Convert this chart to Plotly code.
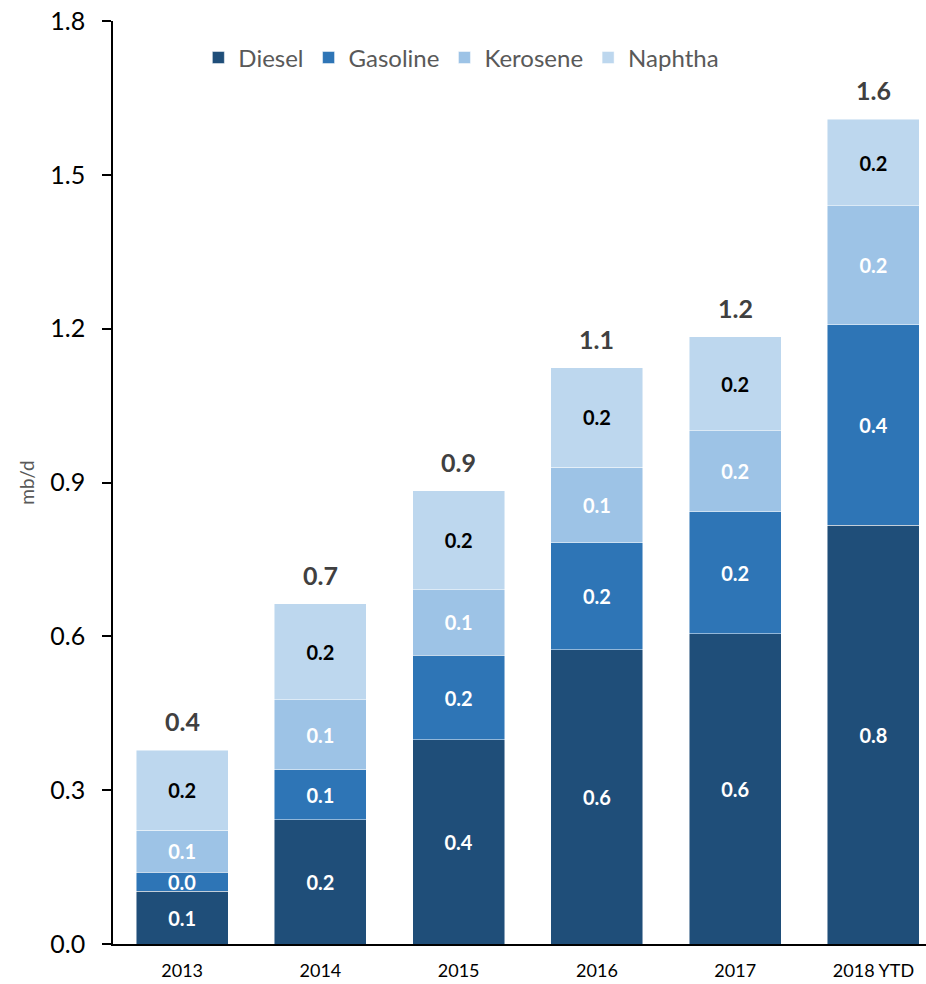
import plotly.graph_objects as go

# ── Data (mb/d) ────────────────────────────────────────────────────────────────
years    = ["2013", "2014", "2015", "2016", "2017", "2018 YTD"]
diesel   = [0.103, 0.242, 0.398, 0.574, 0.605, 0.817]
gasoline = [0.037, 0.098, 0.165, 0.209, 0.238, 0.391]
kerosene = [0.082, 0.136, 0.128, 0.147, 0.158, 0.232]
naphtha  = [0.156, 0.188, 0.193, 0.194, 0.183, 0.168]
totals   = [d + g + k + n for d, g, k, n in zip(diesel, gasoline, kerosene, naphtha)]

FONT = "Lato, 'Open Sans', sans-serif"

series = [
    ("Diesel",   diesel,   "#1F4E79", "white"),
    ("Gasoline", gasoline, "#2E75B6", "white"),
    ("Kerosene", kerosene, "#9DC3E6", "white"),
    ("Naphtha",  naphtha,  "#BDD7EE", "black"),
]

fig = go.Figure()
for name, vals, color, txt in series:
    fig.add_trace(go.Bar(
        x=years, y=vals, name=name,
        marker=dict(color=color, line=dict(color="rgba(255,255,255,0.6)", width=0.8)),
        width=0.665,
        texttemplate="%{y:.1f}", textposition="inside",
        insidetextanchor="middle", textangle=0, constraintext="none",
        textfont=dict(family=FONT, size=20, color=txt, weight="bold"),
    ))

# totals above each stack (x by category index; "2013" etc. would be read as numbers)
for i, t in enumerate(totals):
    fig.add_annotation(
        x=i, y=t, text=f"{t:.1f}", showarrow=False,
        yanchor="bottom", yshift=12,
        font=dict(family=FONT, size=25, color="#404040", weight="bold"),
    )

fig.update_layout(
    barmode="stack",
    width=926, height=984,
    paper_bgcolor="white", plot_bgcolor="white",
    margin=dict(l=113, r=0, t=21, b=40),
    font=dict(family=FONT, color="black"),
    uniformtext=dict(minsize=20, mode="show"),
    legend=dict(
        orientation="h", x=0.105, y=0.96, xanchor="left", yanchor="middle",
        font=dict(family=FONT, size=24, color="#595959"),
        traceorder="normal", bgcolor="rgba(0,0,0,0)",
    ),
    showlegend=True,
)

fig.update_xaxes(
    range=[-0.5, 5.38], showline=True, linecolor="black", linewidth=1.5,
    ticks="", tickfont=dict(family=FONT, size=18, color="black"),
    ticklabelstandoff=10, showgrid=False, automargin=False,
)
fig.update_yaxes(
    range=[0, 1.8], tickvals=[0, 0.3, 0.6, 0.9, 1.2, 1.5, 1.8],
    tickformat=".1f", showline=True, linecolor="black", linewidth=1.5,
    ticks="outside", ticklen=9, tickcolor="black", tickwidth=1.5,
    tickfont=dict(family=FONT, size=25, color="black"),
    ticklabelstandoff=12,
    showgrid=False, zeroline=False, automargin=False,
    title=dict(text="mb/d", font=dict(family=FONT, size=19, color="#595959"), standoff=11),
)

# drop the page's default body margin so the figure fills the window exactly
fig.write_html("out.html", config={"displayModeBar": False},
               post_script="document.body.style.margin='0';")
